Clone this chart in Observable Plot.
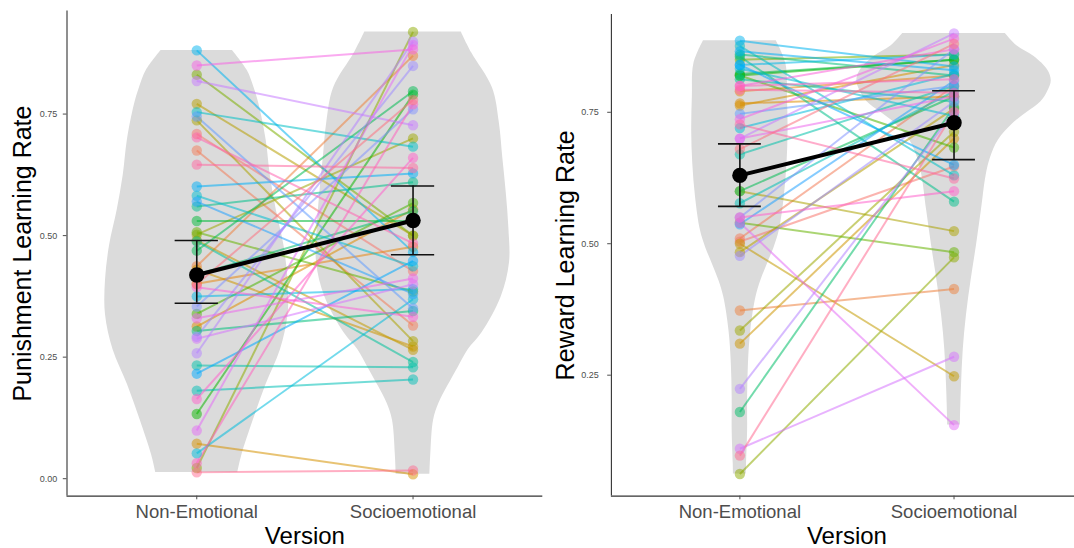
<!DOCTYPE html>
<html>
<head>
<meta charset="utf-8">
<script src="https://cdn.jsdelivr.net/npm/d3@7"></script>
<script src="https://cdn.jsdelivr.net/npm/@observablehq/plot@0.6"></script>
<style>
  html, body { margin: 0; padding: 0; background: #fff; }
  #wrap { display: flex; width: 1074px; height: 548px; overflow: hidden; }
  svg { overflow: visible; }
</style>
</head>
<body>
<div id="wrap"></div>
<script>
// ---------- data ----------
const versions = ["Non-Emotional", "Socioemotional"];
const yTicks = [0, 0.25, 0.5, 0.75];

// per participant (index = participant id), punishment learning rate
const punNE = [0.709,0.675,0.437,0.401,0.313,0.072,0.43,0.49,0.771,0.737,0.502,0.022,0.831,0.507,0.339,0.133,0.53,0.469,0.42,0.304,0.56,0.488,0.233,0.181,0.754,0.582,0.052,0.375,0.881,0.601,0.216,0.57,0.745,0.354,0.292,0.258,0.818,0.288,0.099,0.33,0.85,0.394,0.164,0.032,0.702,0.646,0.013,0.40];
const punSE = [0.427,0.315,0.87,0.477,0.554,0.009,0.272,0.265,0.5,0.283,0.70,0.919,0.50,0.385,0.567,0.79,0.53,0.797,0.55,0.345,0.61,0.24,0.229,0.204,0.683,0.437,0.369,0.39,0.466,0.628,0.448,0.38,0.35,0.76,0.849,0.899,0.727,0.40,0.892,0.412,0.883,0.333,0.66,0.77,0.484,0.639,0.017,0.779];
// reward learning rate
const rewNE = [0.504,0.51,0.373,0.79,0.767,0.763,0.31,0.50,0.484,0.60,0.335,0.062,0.85,0.54,0.82,0.82,0.823,0.60,0.18,0.86,0.856,0.813,0.67,0.577,0.876,0.833,0.72,0.84,0.886,0.866,0.84,0.537,0.747,0.55,0.477,0.224,0.70,0.11,0.54,0.70,0.737,0.80,0.55,0.80,0.793,0.727,0.097,0.68];
const rewSE = [0.647,0.80,0.414,0.82,0.78,0.84,0.70,0.248,0.757,0.524,0.713,0.474,0.86,0.484,0.683,0.85,0.85,0.78,0.76,0.82,0.58,0.77,0.80,0.79,0.63,0.743,0.823,0.86,0.837,0.83,0.65,0.81,0.80,0.87,0.77,0.75,0.90,0.285,0.155,0.78,0.89,0.87,0.60,0.813,0.787,0.624,0.75,0.88];

// group means and error bars
const punMean = [0.419, 0.531], punLow = [0.361, 0.4605], punHigh = [0.490, 0.602];
const rewMean = [0.630, 0.730], rewLow = [0.571, 0.660], rewHigh = [0.690, 0.791];

// violin outlines: value and half-width (in category units)
const punNEv = [0.013,0.049,0.121,0.193,0.265,0.337,0.408,0.480,0.552,0.624,0.696,0.768,0.804,0.840,0.881];
const punNEw = [0.190,0.209,0.262,0.320,0.387,0.422,0.422,0.403,0.368,0.340,0.321,0.289,0.265,0.233,0.165];
const punSEv = [0.009,0.05,0.12,0.155,0.19,0.23,0.265,0.30,0.373,0.444,0.516,0.588,0.66,0.732,0.804,0.876,0.919];
const punSEw = [0.078,0.082,0.095,0.12,0.16,0.21,0.255,0.319,0.407,0.446,0.443,0.431,0.415,0.399,0.367,0.271,0.223];
const rewNEv = [0.062,0.081,0.145,0.208,0.272,0.335,0.398,0.43,0.462,0.493,0.525,0.588,0.652,0.715,0.779,0.842,0.886];
const rewNEw = [0.03,0.031,0.036,0.036,0.04,0.051,0.075,0.098,0.129,0.16,0.184,0.207,0.22,0.225,0.222,0.215,0.17];
const rewSEv = [0.155,0.165,0.231,0.298,0.364,0.431,0.497,0.564,0.63,0.663,0.697,0.73,0.75,0.77,0.79,0.81,0.83,0.856,0.876,0.90];
const rewSEw = [0.03,0.03,0.035,0.043,0.058,0.08,0.105,0.128,0.15,0.17,0.207,0.279,0.342,0.406,0.438,0.454,0.438,0.374,0.295,0.24];

// ---------- ggplot-like hue palette (polar LUV) ----------
function hclLuv(h, c, l) {
  const hr = h * Math.PI / 180;
  const U = c * Math.cos(hr), V = c * Math.sin(hr);
  const Xn = 0.95047, Yn = 1, Zn = 1.08883;
  const den = Xn + 15 * Yn + 3 * Zn;
  const un = 4 * Xn / den, vn = 9 * Yn / den;
  const Y = l > 8 ? Yn * Math.pow((l + 16) / 116, 3) : Yn * l / 903.3;
  const up = U / (13 * l) + un, vp = V / (13 * l) + vn;
  const X = 9 * Y * up / (4 * vp);
  const Z = -X / 3 - 5 * Y + 3 * Y / vp;
  const lin = [
    3.2404542 * X - 1.5371385 * Y - 0.4985314 * Z,
    -0.9692660 * X + 1.8760108 * Y + 0.0415560 * Z,
    0.0556434 * X - 0.2040259 * Y + 1.0572252 * Z
  ];
  const g = lin.map(v => {
    const s = v <= 0.0031308 ? 12.92 * v : 1.055 * Math.pow(v, 1 / 2.4) - 0.055;
    return Math.round(255 * Math.max(0, Math.min(1, s)));
  });
  return `rgb(${g[0]},${g[1]},${g[2]})`;
}
const nP = punNE.length;
const palette = d3.range(nP).map(i => hclLuv(15 + 360 * i / nP, 100, 65));

// ---------- panel builder ----------
const FONT = "'Liberation Sans', Arial, Helvetica, sans-serif";

function panel(o) {
  const rows = o.ne.map((ne, i) => ({id: i, ne, se: o.se[i], color: palette[i]}));
  const vNE = o.vNEv.map((v, i) => ({v, w: o.vNEw[i]}));
  const vSE = o.vSEv.map((v, i) => ({v, w: o.vSEw[i]}));
  const means = o.mean.map((m, i) => ({x: i + 1, m, lo: o.low[i], hi: o.high[i]}));
  const ticks = yTicks.filter(t => t >= o.yDomain[0] && t <= o.yDomain[1]);
  return Plot.plot({
    width: o.width, height: 548,
    marginTop: o.mt, marginBottom: 52.4, marginLeft: o.ml, marginRight: o.mr,
    x: {domain: o.xDomain},
    y: {domain: o.yDomain},
    color: {type: "identity"},
    style: {fontFamily: FONT, background: "white", overflow: "visible"},
    marks: [
      Plot.areaX(vNE, {y: "v", x1: d => 1 - d.w, x2: d => 1 + d.w, fill: "#dbdbdb", curve: "catmull-rom"}),
      Plot.areaX(vSE, {y: "v", x1: d => 2 - d.w, x2: d => 2 + d.w, fill: "#dbdbdb", curve: "catmull-rom"}),
      Plot.link(rows, {x1: 1, x2: 2, y1: "ne", y2: "se", stroke: "color", strokeWidth: 2, strokeOpacity: 0.55}),
      Plot.dot(rows, {x: 1, y: "ne", r: 5.2, fill: "color", fillOpacity: 0.5}),
      Plot.dot(rows, {x: 2, y: "se", r: 5.2, fill: "color", fillOpacity: 0.5}),
      Plot.ruleX(means, {x: "x", y1: "lo", y2: "hi", stroke: "#111", strokeWidth: 1.6}),
      Plot.ruleY(means, {y: "lo", x1: d => d.x - 0.1, x2: d => d.x + 0.1, stroke: "#111", strokeWidth: 1.6}),
      Plot.ruleY(means, {y: "hi", x1: d => d.x - 0.1, x2: d => d.x + 0.1, stroke: "#111", strokeWidth: 1.6}),
      Plot.line(means, {x: "x", y: "m", stroke: "black", strokeWidth: 4}),
      Plot.dot(means, {x: "x", y: "m", r: 7.7, fill: "black"}),
      Plot.ruleX([o.xDomain[0]], {stroke: "#333", strokeWidth: 1.1}),
      Plot.ruleY([o.yDomain[0]], {stroke: "#333", strokeWidth: 1.1}),
      Plot.axisY({ticks, tickFormat: d3.format(".2f"), tickSize: 3.7, tickPadding: o.yPad, fontSize: 9, color: "#4d4d4d", label: null}),
      Plot.axisX({ticks: [1, 2], tickFormat: d => versions[d - 1], tickSize: 3.7, tickPadding: 5.1, fontSize: 18.5, color: "#4d4d4d", label: null}),
      Plot.text([o.ytitle], {text: d => d, frameAnchor: "left", dx: o.ytitleDx, rotate: -90, fontSize: 25, fill: "black", textAnchor: "middle", lineAnchor: "middle"}),
      Plot.text(["Version"], {text: d => d, frameAnchor: "bottom", dx: o.versionDx, dy: 40.7, fontSize: 24, fill: "black", textAnchor: "middle", lineAnchor: "middle"})
    ]
  });
}

const left = panel({
  ne: punNE, se: punSE, mean: punMean, low: punLow, high: punHigh,
  vNEv: punNEv, vNEw: punNEw, vSEv: punSEv, vSEw: punSEw,
  width: 548, mt: 10.5, ml: 66.5, mr: 5.7,
  xDomain: [0.4, 2.6], yDomain: [-0.0358, 0.962],
  ytitle: "Punishment Learning Rate", ytitleDx: -44.5, versionDx: 0, yPad: 6
});
const right = panel({
  ne: rewNE, se: rewSE, mean: rewMean, low: rewLow, high: rewHigh,
  vNEv: rewNEv, vNEw: rewNEw, vSEv: rewSEv, vSEw: rewSEw,
  width: 526, mt: 14, ml: 62.9, mr: 0,
  xDomain: [0.4, 2.5626], yDomain: [0.020, 0.936],
  ytitle: "Reward Learning Rate", ytitleDx: -45.4, versionDx: 4, yPad: 9
});
document.getElementById("wrap").append(left, right);
</script>
</body>
</html>
